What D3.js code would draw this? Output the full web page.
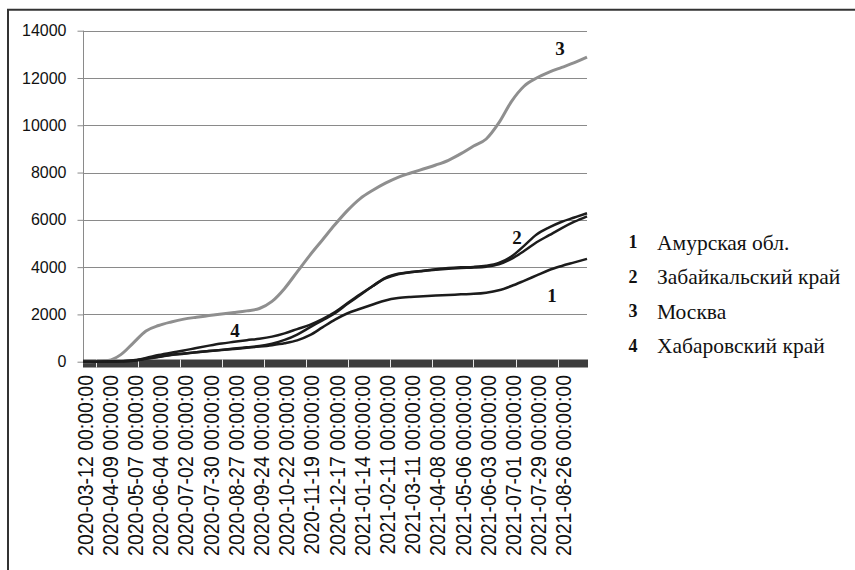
<!DOCTYPE html>
<html><head><meta charset="utf-8">
<script src="https://cdn.jsdelivr.net/npm/d3@7"></script>
<style>body{margin:0;background:#fff}svg{display:block}</style>
</head><body>
<svg id="c" width="855" height="570"></svg>
<script>
const dates = ["2020-03-10","2020-03-24","2020-04-07","2020-04-21","2020-05-05","2020-05-19","2020-06-02","2020-06-16","2020-06-30","2020-07-14","2020-07-28","2020-08-11","2020-08-25","2020-09-08","2020-09-22","2020-10-06","2020-10-20","2020-11-03","2020-11-17","2020-12-01","2020-12-15","2020-12-29","2021-01-12","2021-01-26","2021-02-09","2021-02-23","2021-03-09","2021-03-23","2021-04-06","2021-04-20","2021-05-04","2021-05-18","2021-06-01","2021-06-15","2021-06-29","2021-07-13","2021-07-27","2021-08-10","2021-08-24","2021-09-07","2021-09-21"];
const amur =       [0,0,5,15,40,130,210,290,350,400,450,490,540,590,640,700,780,900,1120,1450,1780,2050,2240,2420,2590,2690,2740,2770,2800,2820,2850,2870,2920,3020,3200,3420,3650,3880,4050,4200,4350];
const zabaikal =   [0,0,5,15,40,120,200,280,340,400,450,500,560,610,660,760,920,1150,1450,1750,2050,2450,2820,3200,3520,3700,3780,3850,3910,3960,3990,4010,4060,4180,4450,4900,5380,5680,5920,6100,6280];
const moscow =     [0,10,50,300,800,1300,1530,1680,1800,1880,1950,2020,2080,2150,2250,2550,3100,3800,4500,5150,5800,6400,6900,7250,7550,7800,7980,8150,8320,8520,8800,9120,9420,10100,11000,11650,12000,12250,12450,12650,12880];
const khabarovsk = [0,0,5,20,60,160,280,380,470,580,680,770,840,910,970,1060,1200,1380,1560,1800,2100,2480,2850,3200,3550,3720,3790,3840,3890,3930,3960,3980,4020,4120,4350,4680,5050,5350,5650,5920,6150];
const seriesNames = ["Амурская обл.","Забайкальский край","Москва","Хабаровский край"];
const seriesNums = ["1","2","3","4"];
const xTickLabels = ["2020-03-12","2020-04-09","2020-05-07","2020-06-04","2020-07-02","2020-07-30","2020-08-27","2020-09-24","2020-10-22","2020-11-19","2020-12-17","2021-01-14","2021-02-11","2021-03-11","2021-04-08","2021-05-06","2021-06-03","2021-07-01","2021-07-29","2021-08-26"];
const bandTicks = ["2020-03-24","2020-05-10","2020-06-26","2020-08-11","2020-09-27","2020-11-13","2020-12-29","2021-02-14","2021-04-02","2021-05-17","2021-07-04","2021-08-20"];
const yTicks = [0,2000,4000,6000,8000,10000,12000,14000];

const parse = d3.utcParse("%Y-%m-%d");
const svg = d3.select("#c");
const x = d3.scaleUtc().domain([parse("2020-03-10"), parse("2021-09-21")]).range([83, 587]);
const y = d3.scaleLinear().domain([0, 14000]).range([361.7, 30.7]);

// frame
svg.append("line").attr("x1",8).attr("x2",8).attr("y1",9).attr("y2",570).attr("stroke","#333").attr("stroke-width",2);
svg.append("line").attr("x1",7).attr("x2",855).attr("y1",9.8).attr("y2",9.8).attr("stroke","#333").attr("stroke-width",2);

// gridlines
svg.append("g").selectAll("line").data(yTicks.filter(d=>d>0)).join("line")
  .attr("x1",83).attr("x2",587).attr("y1",d=>Math.round(y(d))+0.5).attr("y2",d=>Math.round(y(d))+0.5)
  .attr("stroke","#8a8a8a").attr("stroke-width",1);

// y axis
const yAxis = d3.axisLeft(y).tickValues(yTicks).tickSize(6).tickFormat(d3.format("d"));
const ga = svg.append("g").attr("transform","translate(83.5,0)").call(yAxis);
ga.select(".domain").attr("stroke","#8a8a8a").attr("d","M0,"+y(14000)+"V"+y(0));
ga.selectAll(".tick line").attr("stroke","#8a8a8a");
ga.selectAll(".tick text").attr("x",-17).attr("font-family","Liberation Sans, Arial, sans-serif").attr("font-size",16).attr("fill","#111");

// x band
svg.append("rect").attr("x",83).attr("y",359.5).attr("width",x.range()[1]+1-83).attr("height",8).attr("fill","#3d3d3d");
svg.append("g").selectAll("line").data(bandTicks).join("line")
  .attr("x1",d=>Math.round(x(parse(d)))+0.5).attr("x2",d=>Math.round(x(parse(d)))+0.5)
  .attr("y1",359.5).attr("y2",367.5).attr("stroke","#e8e8e8").attr("stroke-width",1);

// x labels
svg.append("g").selectAll("text").data(xTickLabels).join("text")
  .attr("transform",d=>`translate(${x(parse(d))},375) rotate(-90) scale(1,1.12)`)
  .attr("text-anchor","end").attr("dy","0.36em")
  .attr("font-family","Liberation Sans, Arial, sans-serif").attr("font-size",19.5).attr("fill","#111")
  .text(d=>d+" 00:00:00");

// lines
const line = d3.line().x((d,i)=>x(parse(dates[i]))).y(d=>y(d)).curve(d3.curveMonotoneX);
const seriesData = [
  {v: moscow, c: "#8f8f8f", w: 3},
  {v: amur, c: "#1c1c1c", w: 2.5},
  {v: khabarovsk, c: "#1c1c1c", w: 2.5},
  {v: zabaikal, c: "#1c1c1c", w: 2.5}
];
svg.append("g").selectAll("path").data(seriesData).join("path")
  .attr("d",d=>line(d.v)).attr("fill","none").attr("stroke",d=>d.c).attr("stroke-width",d=>d.w)
  .attr("stroke-linejoin","round");

// in-plot labels
const inLabels = [{t:"3",x:560,y:48},{t:"2",x:517,y:237},{t:"1",x:552,y:295},{t:"4",x:235,y:330}];
svg.append("g").selectAll("text").data(inLabels).join("text")
  .attr("x",d=>d.x).attr("y",d=>d.y).attr("dy","0.35em").attr("text-anchor","middle")
  .attr("font-family","Liberation Serif, Times New Roman, serif").attr("font-weight","bold").attr("font-size",19).attr("fill","#111")
  .text(d=>d.t);

// legend
const lg = svg.append("g").selectAll("g").data(seriesNames).join("g")
  .attr("transform",(d,i)=>`translate(0,${242 + i*34.5})`);
lg.append("text").attr("x",633).attr("dy","0.35em").attr("text-anchor","middle")
  .attr("font-family","Liberation Serif, Times New Roman, serif").attr("font-weight","bold").attr("font-size",18).attr("fill","#111")
  .text((d,i)=>seriesNums[i]);
lg.append("text").attr("x",657).attr("dy","0.35em")
  .attr("font-family","Liberation Serif, Times New Roman, serif").attr("font-size",21.5).attr("fill","#111")
  .text(d=>d);
</script>
</body></html>
